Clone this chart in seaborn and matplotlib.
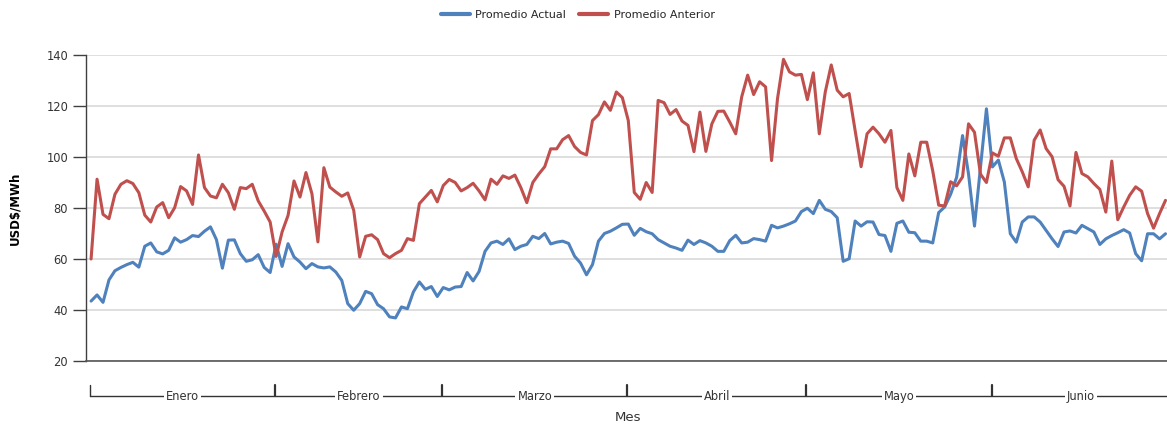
import numpy as np
import pandas as pd
import seaborn as sns
import matplotlib.pyplot as plt
from matplotlib.lines import Line2D

# daily averages, 1 Jan .. 30 Jun (181 days)
promedio_anterior = [
    60, 91.3, 77.5, 75.8, 85.4, 89.3, 90.7, 89.6, 86, 77.2,
    74.5, 80.4, 82.1, 76.2, 80.1, 88.4, 86.7, 81.4, 100.8, 88,
    84.7, 84, 89.3, 86, 79.5, 88, 87.6, 89.3, 82.8, 78.8,
    74.5, 61, 70.6, 77.1, 90.6, 84.3, 93.9, 85.6, 66.7, 95.8,
    88.2, 86.3, 84.6, 85.9, 79.1, 60.8, 68.9, 69.5, 67.6, 62.1,
    60.5, 62.1, 63.4, 68, 67.3, 81.7, 84.3, 86.9, 82.4, 88.8,
    91.2, 90, 86.7, 88, 89.7, 86.7, 83.2, 91.3, 89.3, 92.6,
    91.6, 92.9, 88, 82.1, 90, 93.3, 96.2, 103.2, 103.2, 106.8,
    108.4, 104.1, 101.8, 100.8, 114.3, 116.6, 121.6, 118.3, 125.5, 123.3,
    114.3, 86.1, 83.4, 90, 86.1, 122.2, 121.3, 116.7, 118.6, 114.1,
    112.4, 102.1, 117.6, 102.2, 113, 117.9, 118, 113.7, 109.1, 123.6,
    132.1, 124.5, 129.5, 127.5, 98.6, 122.9, 138.3, 133.4, 132.1, 132.4,
    122.5, 133, 109.1, 125.5, 136.1, 126.2, 123.6, 124.9, 110.4, 96.2,
    109.1, 111.7, 109.1, 105.8, 110.4, 88, 83, 101.2, 92.6, 105.8,
    105.8, 94.6, 81.1, 80.8, 90.3, 88.7, 92.2, 113, 109.7, 93.3,
    90, 101.6, 100.3, 107.5, 107.5, 99.4, 94.2, 88.3, 106.6, 110.6,
    103.3, 100.1, 91.1, 88.5, 80.8, 101.8, 93.5, 92.2, 89.6, 87.3,
    78.4, 98.4, 75.4, 80.4, 85, 88.3, 86.6, 77.8, 72.1, 77.8,
    83,
]

promedio_actual = [
    43.5, 45.9, 43, 51.8, 55.4, 56.7, 57.8, 58.7, 56.8, 65,
    66.3, 62.8, 62, 63.4, 68.3, 66.6, 67.6, 69.2, 68.8, 70.9,
    72.6, 67.6, 56.4, 67.4, 67.5, 62.1, 59.1, 59.7, 61.7, 56.7,
    54.7, 65.8, 57.1, 66, 60.8, 58.8, 56.2, 58.2, 56.9, 56.5,
    56.9, 54.9, 51.6, 42.5, 39.9, 42.5, 47.3, 46.4, 42.1, 40.5,
    37.3, 36.9, 41.2, 40.5, 47.1, 51, 48.1, 49.2, 45.3, 48.8,
    47.9, 49, 49.2, 54.7, 51.4, 55.1, 63, 66.3, 67, 65.7,
    67.9, 63.7, 65, 65.7, 68.9, 68, 70, 65.9, 66.6, 67,
    66.1, 61.1, 58.4, 53.8, 57.8, 67, 70, 70.9, 72.2, 73.6,
    73.7, 69.3, 72, 70.7, 69.9, 67.6, 66.3, 65, 64.3, 63.4,
    67.4, 65.7, 67.2, 66.3, 65, 63, 63, 67.2, 69.3, 66.3,
    66.6, 68, 67.6, 67, 73.2, 72.2, 72.9, 73.8, 74.9, 78.6,
    79.9, 77.8, 83, 79.5, 78.6, 76.2, 59.1, 60.1, 74.9, 72.9,
    74.6, 74.5, 69.6, 69.2, 63, 74, 74.9, 70.5, 70.3, 67,
    67, 66.3, 78.2, 80.4, 85.4, 92, 108.4, 93.3, 72.9, 95.9,
    118.9, 96.1, 98.8, 90.2, 69.9, 66.6, 74.5, 76.5, 76.5, 74.5,
    71.2, 67.9, 64.9, 70.6, 71, 70.2, 73.2, 71.9, 70.6, 65.7,
    67.9, 69.2, 70.3, 71.5, 70.2, 62.1, 59.3, 69.9, 69.9, 67.9,
    69.9,
]

meses = ["Enero", "Febrero", "Marzo", "Abril", "Mayo", "Junio"]
dias_mes = [31, 28, 31, 30, 31, 30]
y_ticks = [20, 40, 60, 80, 100, 120, 140]

BLUE = "#4F81BD"
RED = "#C0504D"
TXT = "#333333"

sns.set_style("white")
plt.rcParams["font.family"] = ["DejaVu Sans"]

df = pd.DataFrame({
    "dia": np.arange(len(promedio_actual)),
    "Promedio Actual": promedio_actual,
    "Promedio Anterior": promedio_anterior,
})
long_df = df.melt(id_vars="dia", var_name="serie", value_name="valor")

W, H = 1167, 426
fig = plt.figure(figsize=(W / 100, H / 100), dpi=100)
ax = fig.add_axes([86 / W, 1 - 361 / H, 1 - 86 / W, 306 / H])

sns.lineplot(data=long_df, x="dia", y="valor", hue="serie",
             palette={"Promedio Actual": BLUE, "Promedio Anterior": RED},
             linewidth=2.2, ax=ax, legend=False)

ax.set_xlim(-0.85, 180.25)
ax.set_ylim(20, 140)
ax.set_yticks(y_ticks)
ax.set_yticklabels([str(v) for v in y_ticks], fontsize=8.3, color=TXT)
ax.set_xticks([])
ax.yaxis.grid(True, color="#D9D9D9", linewidth=1.2)
ax.set_axisbelow(True)
ax.tick_params(axis="y", direction="out", length=9.3, width=1, color="#404040", pad=3.5, left=True)
for s in ["top", "right"]:
    ax.spines[s].set_visible(False)
ax.spines["left"].set_color("#404040")
ax.spines["bottom"].set_color("#555555")
ax.spines["left"].set_linewidth(1)
ax.spines["bottom"].set_linewidth(1.2)
ax.set_xlabel("")
ax.set_ylabel("USD$/MWh", fontsize=8.5, fontweight="bold", color="black", labelpad=18)

# month bracket axis
trans = ax.get_xaxis_transform()
bounds = np.concatenate([[0], np.cumsum(dias_mes)]) - 0.15
y_line = -0.116
y_tick_top = -0.08
ax.plot([bounds[0], 181], [y_line, y_line], color="#333333", lw=1,
        transform=trans, clip_on=False)
for b in bounds[:-1]:
    ax.plot([b, b], [y_line, y_tick_top], color="#333333",
            lw=1.6 if b > 0 else 1, transform=trans, clip_on=False)
for i, m in enumerate(meses):
    cx = (bounds[i] + bounds[i + 1]) / 2
    ax.text(cx, y_line, m, transform=trans, ha="center", va="center",
            fontsize=8.3, color=TXT,
            bbox=dict(facecolor="white", edgecolor="none", pad=1.5))

ax.text(90, -0.186, "Mes", transform=trans, ha="center", va="center",
        fontsize=9.5, color=TXT)

handles = [Line2D([], [], color=BLUE, lw=3), Line2D([], [], color=RED, lw=3)]
fig.legend(handles, ["Promedio Actual", "Promedio Anterior"], loc="center",
           bbox_to_anchor=(0.495, 1 - 15 / H), ncol=2, frameon=False,
           fontsize=8, handlelength=2.6, columnspacing=1.2, handletextpad=0.5)

fig.savefig("out.png", dpi=100)
